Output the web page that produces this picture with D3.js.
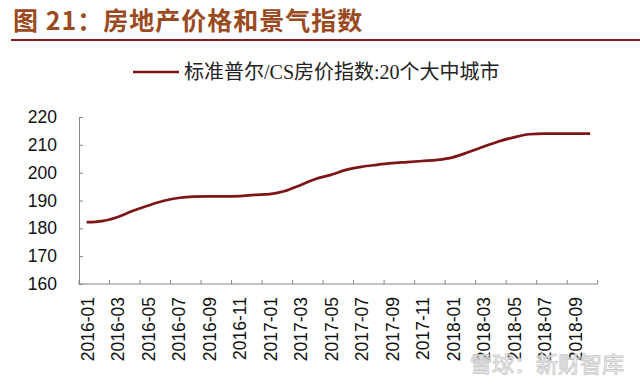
<!DOCTYPE html>
<html><head><meta charset="utf-8">
<script src="https://cdn.jsdelivr.net/npm/d3@7"></script>
<style>body{margin:0;background:#fff}svg{display:block}</style>
</head><body>
<svg id="c" width="640" height="384"></svg>
<script>
const months = ["2016-01","2016-02","2016-03","2016-04","2016-05","2016-06","2016-07","2016-08","2016-09","2016-10","2016-11","2016-12",
"2017-01","2017-02","2017-03","2017-04","2017-05","2017-06","2017-07","2017-08","2017-09","2017-10","2017-11","2017-12",
"2018-01","2018-02","2018-03","2018-04","2018-05","2018-06","2018-07","2018-08","2018-09","2018-10"];
const csIndex = [182.2,182.6,184.0,186.2,188.1,189.8,190.9,191.4,191.5,191.5,191.6,192.0,
192.3,193.4,195.5,197.7,199.2,201.0,202.1,202.8,203.4,203.8,204.2,204.6,
205.5,207.3,209.3,211.2,212.7,213.8,214.0,214.0,214.0,214.0];
const yTicks = [160,170,180,190,200,210,220];
const titleText = "图 21：房地产价格和景气指数";
const legendText = "标准普尔/CS房价指数:20个大中城市";
const watermark = "雪球：新财智库";

const svg = d3.select("#c");
const lineColor = "#7f1416";
const axisColor = "#868686";
const L = 79, R = 597.7, T = 117, B = 284;

svg.append("text").attr("x",13).attr("y",30).attr("font-family","'Noto Sans CJK SC'")
  .attr("font-weight","bold").attr("font-size",25).attr("letter-spacing",1)
  .attr("fill","#9a4a1e").text(titleText);
svg.append("line").attr("x1",11).attr("x2",640).attr("y1",40).attr("y2",40)
  .attr("stroke","#8b1a1a").attr("stroke-width",2);

// legend
svg.append("line").attr("x1",133).attr("x2",179).attr("y1",72).attr("y2",72)
  .attr("stroke",lineColor).attr("stroke-width",2.5);
svg.append("text").attr("x",184).attr("y",79).attr("font-family","'Liberation Serif','Noto Sans CJK SC'")
  .attr("font-size",20).attr("fill","#222").text(legendText);

const x = d3.scaleBand().domain(months).range([L,R]).padding(0);
const y = d3.scaleLinear().domain([160,220]).range([B,T]);

// y axis
const ya = svg.append("g").attr("transform",`translate(${L},0)`)
  .call(d3.axisLeft(y).tickValues(yTicks).tickSizeInner(-4).tickSizeOuter(0).tickPadding(22));
ya.select(".domain").attr("stroke",axisColor);
ya.selectAll(".tick line").attr("stroke",axisColor);
ya.selectAll(".tick text").attr("font-family","Arial,'Liberation Sans'").attr("font-size",17.5).attr("fill","#111");

// x axis
const xg = svg.append("g");
xg.append("line").attr("x1",L).attr("x2",R).attr("y1",B).attr("y2",B).attr("stroke",axisColor);
const tickIdx = d3.range(0, months.length+1, 2);
xg.selectAll("line.t").data(tickIdx).join("line").attr("class","t")
  .attr("x1",i => i<months.length ? x(months[i]) : R).attr("x2",i => i<months.length ? x(months[i]) : R)
  .attr("y1",B).attr("y2",B-4).attr("stroke",axisColor);
const labelMonths = months.filter((m,i)=>i%2===0);
xg.selectAll("text").data(labelMonths).join("text")
  .attr("transform",m => `translate(${x(m)+x.bandwidth()/2+1},${B+13}) rotate(-90)`)
  .attr("text-anchor","end").attr("dy","0.35em")
  .attr("font-family","Arial,'Liberation Sans'").attr("font-size",17.5).attr("fill","#111").text(m=>m);

// line
const line = d3.line().x((d,i)=>x(months[i])+x.bandwidth()/2).y(d=>y(d)).curve(d3.curveMonotoneX);
svg.append("path").datum(csIndex).attr("d",line).attr("fill","none")
  .attr("stroke",lineColor).attr("stroke-width",2.7);

// watermark
svg.append("text").attr("x",470).attr("y",372).attr("font-family","'Noto Sans CJK SC'")
  .attr("font-size",22).attr("fill","#fff").attr("stroke","#c8c8c8").attr("stroke-width",1)
  .attr("opacity",0.9).text(watermark);
</script>
</body></html>
